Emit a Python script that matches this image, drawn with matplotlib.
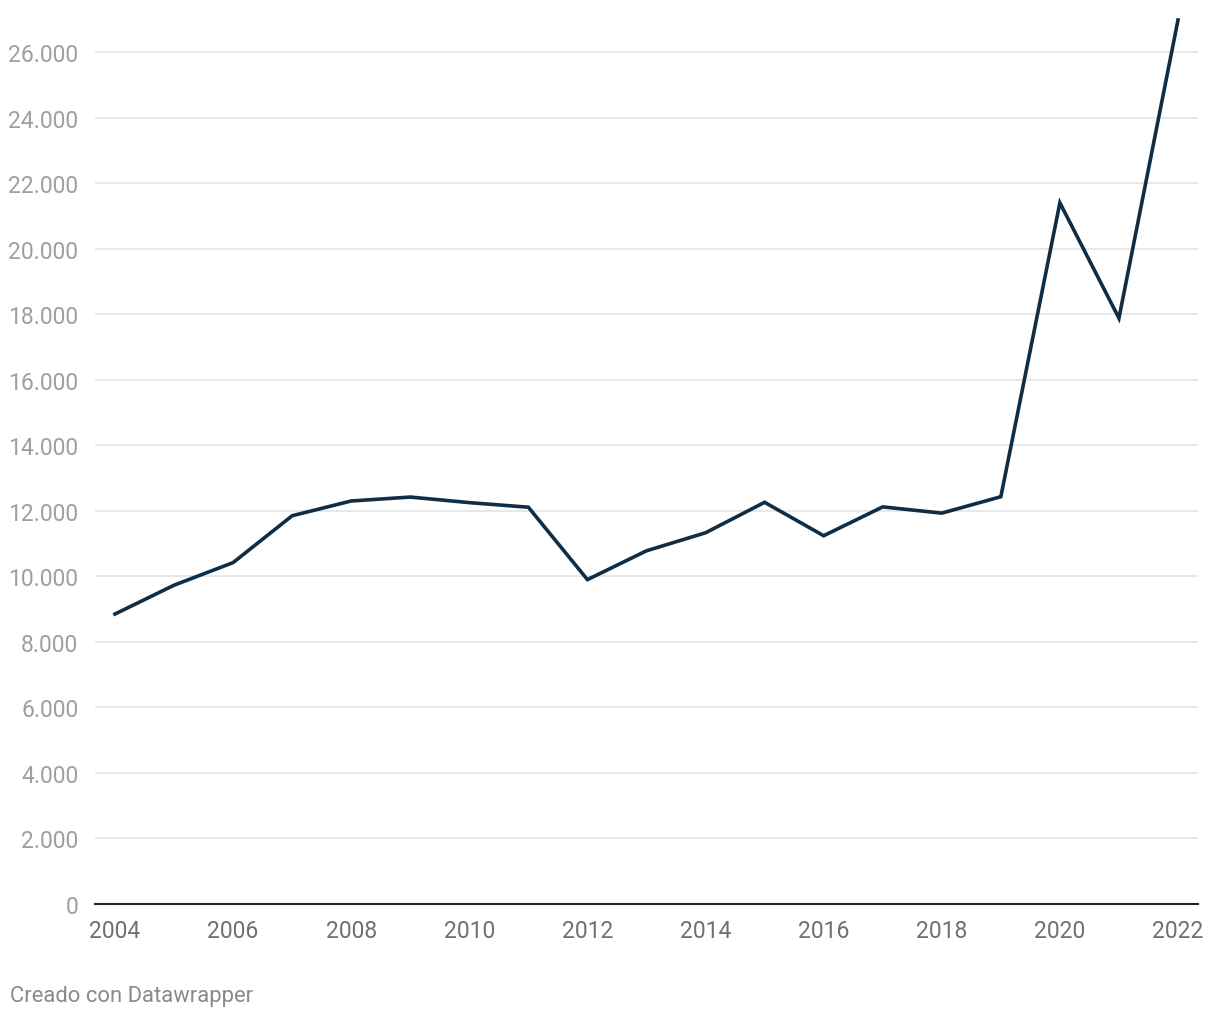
import matplotlib.pyplot as plt
from matplotlib.ticker import FuncFormatter

# datos
anios = [2004, 2005, 2006, 2007, 2008, 2009, 2010, 2011, 2012, 2013,
         2014, 2015, 2016, 2017, 2018, 2019, 2020, 2021, 2022]
valores = [8850, 9730, 10420, 11850, 12300, 12420, 12250, 12110, 9900, 10780,
           11330, 12260, 11240, 12120, 11930, 12430, 21400, 17880, 26980]
ticks_x = list(range(2004, 2023, 2))
ticks_y = list(range(0, 26001, 2000))

plt.rcParams['font.family'] = ['Roboto', 'DejaVu Sans']

fig = plt.figure(figsize=(12.2, 10.2), dpi=100)
ax = fig.add_axes([95 / 1220, 115 / 1020, 1103 / 1220, 884 / 1020])

ax.plot(anios, valores, color="#0f2d44", linewidth=2.6, solid_joinstyle="miter",
        clip_on=False, zorder=3)

ax.set_xlim(2004 - 20 / 59.06, 2022 + 20 / 59.06)
ax.set_ylim(0, 26980)
ax.set_xticks(ticks_x)
ax.set_yticks(ticks_y)
ax.yaxis.set_major_formatter(FuncFormatter(lambda v, p: f"{int(v):,}".replace(",", ".")))

ax.grid(axis="y", color="#e1e1e1", linewidth=1.1)
ax.set_axisbelow(True)
for s in ["top", "right", "left"]:
    ax.spines[s].set_visible(False)
ax.spines["bottom"].set_color("#222222")
ax.spines["bottom"].set_linewidth(1.5)
ax.spines["bottom"].set_zorder(4)

ax.tick_params(axis="y", length=0, pad=12, labelsize=16.5, labelcolor="#9f9f9f")
ax.tick_params(axis="x", length=0, pad=10.5, labelsize=16.5, labelcolor="#707070")

fig.text(10 / 1220, 1 - 997 / 1020, "Creado con Datawrapper", fontsize=15.8,
         color="#8a8a8a", va="center", ha="left")

fig.savefig("out.png", dpi=100, facecolor="white")
